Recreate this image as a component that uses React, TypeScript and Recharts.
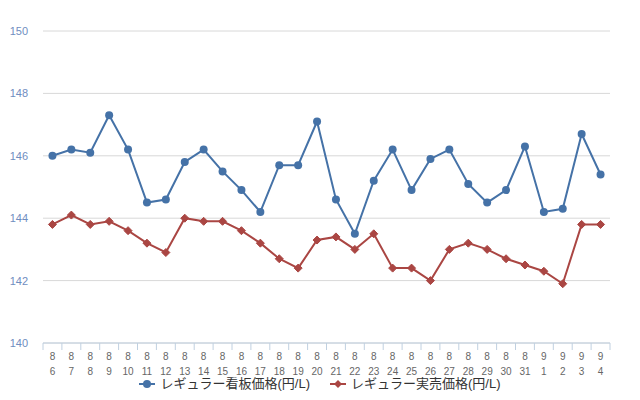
import React from 'react';
import { LineChart, Line, XAxis, YAxis, CartesianGrid, Legend } from 'recharts';

const MONTHS = ['8', '8', '8', '8', '8', '8', '8', '8', '8', '8', '8', '8', '8', '8', '8', '8', '8', '8', '8', '8', '8', '8', '8', '8', '8', '8', '9', '9', '9', '9'];
const DAYS = ['6', '7', '8', '9', '10', '11', '12', '13', '14', '15', '16', '17', '18', '19', '20', '21', '22', '23', '24', '25', '26', '27', '28', '29', '30', '31', '1', '2', '3', '4'];

const SIGN_PRICE = [146.0, 146.2, 146.1, 147.3, 146.2, 144.5, 144.6, 145.8, 146.2, 145.5, 144.9, 144.2, 145.7, 145.7, 147.1, 144.6, 143.5, 145.2, 146.2, 144.9, 145.9, 146.2, 145.1, 144.5, 144.9, 146.3, 144.2, 144.3, 146.7, 145.4];
const ACTUAL_PRICE = [143.8, 144.1, 143.8, 143.9, 143.6, 143.2, 142.9, 144.0, 143.9, 143.9, 143.6, 143.2, 142.7, 142.4, 143.3, 143.4, 143.0, 143.5, 142.4, 142.4, 142.0, 143.0, 143.2, 143.0, 142.7, 142.5, 142.3, 141.9, 143.8, 143.8];

const Y_TICKS = [140, 142, 144, 146, 148, 150];

const SERIES = [
  { key: 'sign', name: 'レギュラー看板価格(円/L)', color: '#4572A7', marker: 'circle' },
  { key: 'actual', name: 'レギュラー実売価格(円/L)', color: '#AA4643', marker: 'diamond' },
];

const data = DAYS.map((d, i) => ({
  label: `${MONTHS[i]}/${d}`,
  month: MONTHS[i],
  day: d,
  sign: SIGN_PRICE[i],
  actual: ACTUAL_PRICE[i],
}));

const FONT = '"Liberation Sans", Arial, "Noto Sans CJK JP", sans-serif';
const W = 640;
const H = 400;
const MARGIN = { top: 31, right: 30, bottom: 7, left: 0 };
const Y_W = 43;
const BAND = (W - MARGIN.left - MARGIN.right - Y_W) / DAYS.length;

function XTick(props: any) {
  const { x, y, payload, index } = props;
  const item = data[index] || data.find((d) => d.label === payload.value);
  const top = y - 8;
  return (
    <g>
      <line x1={x - BAND / 2} x2={x - BAND / 2} y1={top} y2={top + 7} stroke="#C0D0E0" />
      {index === DAYS.length - 1 && (
        <line x1={x + BAND / 2} x2={x + BAND / 2} y1={top} y2={top + 7} stroke="#C0D0E0" />
      )}
      <text x={x} y={top + 17} textAnchor="middle" fill="#666" fontSize={10} fontFamily={FONT}>
        {item ? item.month : ''}
      </text>
      <text x={x} y={top + 32} textAnchor="middle" fill="#666" fontSize={10} fontFamily={FONT}>
        {item ? item.day : ''}
      </text>
    </g>
  );
}

function Diamond(props: any) {
  const { cx, cy, stroke } = props;
  if (cx == null || cy == null) return null;
  const r = 4;
  return (
    <polygon
      points={`${cx},${cy - r} ${cx + r},${cy} ${cx},${cy + r} ${cx - r},${cy}`}
      fill={stroke}
      stroke={stroke}
    />
  );
}

function LegendContent() {
  return (
    <div style={{ display: 'flex', justifyContent: 'center', gap: 20, fontFamily: FONT, fontSize: 13, lineHeight: '15px', color: '#333' }}>
      {SERIES.map((s) => (
        <div key={s.key} style={{ display: 'flex', alignItems: 'center' }}>
          <svg width={16} height={12} style={{ marginRight: 5 }}>
            <line x1={0} x2={16} y1={6} y2={6} stroke={s.color} strokeWidth={2} />
            {s.marker === 'circle' ? (
              <circle cx={8} cy={6} r={4} fill={s.color} />
            ) : (
              <polygon points="8,2 12,6 8,10 4,6" fill={s.color} />
            )}
          </svg>
          <span>{s.name}</span>
        </div>
      ))}
    </div>
  );
}

export default function App() {
  return (
    <div style={{ margin: -8, width: W, height: H, background: '#fff', overflow: 'hidden' }}>
      <LineChart width={W} height={H} data={data} margin={MARGIN}>
        <CartesianGrid vertical={false} stroke="#D8D8D8" />
        <XAxis
          dataKey="label"
          scale="band"
          interval={0}
          tickLine={false}
          axisLine={{ stroke: '#C0D0E0' }}
          tick={<XTick />}
          height={50}
        />
        <YAxis
          domain={[140, 150]}
          ticks={Y_TICKS}
          width={Y_W}
          axisLine={false}
          tickLine={false}
          tickSize={0}
          tickMargin={15}
          tick={{ fill: '#6F8DBF', fontSize: 11, fontFamily: FONT }}
        />
        <Legend
          layout="horizontal"
          verticalAlign="middle"
          align="center"
          content={<LegendContent />}
          wrapperStyle={{ top: 376, bottom: 'auto', left: 0, width: W, height: 18 }}
        />
        <Line
          dataKey="sign"
          name={SERIES[0].name}
          stroke={SERIES[0].color}
          strokeWidth={2}
          dot={{ r: 4, fill: SERIES[0].color, stroke: SERIES[0].color, strokeWidth: 0 }}
          activeDot={false}
          isAnimationActive={false}
        />
        <Line
          dataKey="actual"
          name={SERIES[1].name}
          stroke={SERIES[1].color}
          strokeWidth={2}
          dot={<Diamond />}
          activeDot={false}
          isAnimationActive={false}
        />
      </LineChart>
    </div>
  );
}
